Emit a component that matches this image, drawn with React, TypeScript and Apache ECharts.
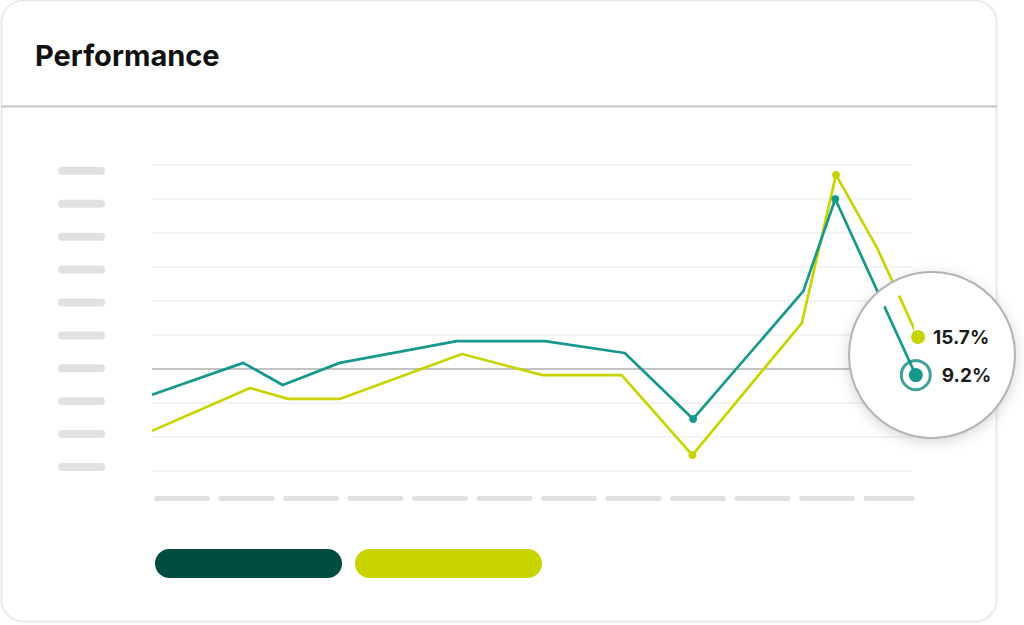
import React, { useEffect, useRef } from "react";
import * as echarts from "echarts";

// x positions are on a 0–100 scale across the plot; y values in grid units (0–9)
const tealX = [0, 12.0, 17.2, 24.7, 40.1, 51.7, 62.2, 71.2, 85.7, 89.9, 100.5];
const tealY = [2.24, 3.18, 2.53, 3.18, 3.82, 3.82, 3.47, 1.53, 5.29, 8.0, 2.82];
const limeX = [0, 12.9, 17.9, 24.7, 40.8, 51.4, 61.8, 71.1, 85.5, 90.0, 95.4, 100.8];
const limeY = [1.18, 2.44, 2.12, 2.12, 3.44, 2.82, 2.82, 0.47, 4.35, 8.71, 6.56, 3.94];
const tealDots = [7, 9];
const limeDots = [7, 9];
const seriesNames = ["Series A", "Series B"];
const endLabels = ["9.2%", "15.7%"];
const title = "Performance";

const TEAL = "#16988d";
const LIME = "#c8d400";
const DARK = "#004b42";

function build(xs: number[], ys: number[], dots: number[], endSize: number, endLabel: string, dist: number) {
  const last = xs.length - 1;
  return xs.map((x, i) => {
    if (i === last) {
      return {
        value: [x, ys[i]],
        symbol: "circle",
        symbolSize: endSize,
        label: {
          show: true,
          position: "right",
          distance: dist,
          formatter: endLabel,
          fontSize: 19,
          fontWeight: "bold",
          color: "#1b1b1b",
          fontFamily: "Inter",
        },
      };
    }
    return {
      value: [x, ys[i]],
      symbol: dots.includes(i) ? "circle" : "none",
      symbolSize: 8,
    };
  });
}

export default function App() {
  const ref = useRef<HTMLDivElement>(null);
  useEffect(() => {
    document.body.style.margin = "0";
    const chart = echarts.init(ref.current!, null, { renderer: "svg" });
    const cx = 932, cy = 355, R = 83;
    const pill = "path://M14.5,0 H172.5 A14.5,14.5 0 0 1 172.5,29 H14.5 A14.5,14.5 0 0 1 14.5,0 Z";
    chart.setOption({
      animation: false,
      backgroundColor: "#ffffff",
      title: {
        text: title,
        left: 30,
        top: 36,
        textStyle: { fontSize: 29, fontWeight: "bold", color: "#111111", fontFamily: "Inter" },
      },
      legend: {
        left: 150,
        top: 544,
        icon: pill,
        itemWidth: 187,
        itemHeight: 29,
        itemGap: 13,
        formatter: () => "",
        itemStyle: { borderWidth: 0 },
        data: [
          { name: seriesNames[0], itemStyle: { color: DARK } },
          { name: seriesNames[1], itemStyle: { color: LIME } },
        ],
        selectedMode: false,
      },
      grid: { left: 152, right: 112, top: 165, bottom: 154 },
      xAxis: {
        type: "value",
        min: 0,
        max: 100,
        position: "bottom",
        offset: 27,
        axisLine: {
          show: true,
          onZero: false,
          lineStyle: { color: "#e1e1e1", width: 5, type: [51, 13.5], dashOffset: 60 },
        },
        axisTick: { show: false },
        axisLabel: { show: false },
        splitLine: { show: false },
      },
      yAxis: [
        {
          type: "value",
          min: 0,
          max: 9,
          interval: 1,
          axisLine: { show: false },
          axisTick: { show: false },
          axisLabel: { show: false },
          splitLine: {
            show: true,
            lineStyle: {
              width: 2,
              color: ["#f3f3f3", "#f3f3f3", "#f3f3f3", "#c2c2c2", "#f3f3f3", "#f3f3f3", "#f3f3f3", "#f3f3f3", "#f3f3f3", "#f3f3f3"],
            },
          },
        },
        {
          type: "value",
          min: 0,
          max: 9.3,
          interval: 1,
          position: "left",
          axisLine: { show: false },
          axisTick: { show: false },
          splitLine: { show: false },
          axisLabel: {
            show: true,
            margin: 47,
            showMaxLabel: false,
            verticalAlign: "bottom",
            formatter: () => "{p| }",
            rich: { p: { width: 47, height: 8, backgroundColor: "#e1e1e1", borderRadius: 4 } },
          },
        },
      ],
      graphic: [
        {
          type: "rect",
          z: -5,
          shape: { x: 1.5, y: 0.5, width: 995, height: 621, r: 22 },
          style: { fill: "#ffffff", stroke: "#e6e6e6", lineWidth: 1.5, shadowBlur: 4, shadowColor: "rgba(0,0,0,0.06)" },
          silent: true,
        },
        {
          type: "line",
          z: -4,
          shape: { x1: 1, y1: 106.5, x2: 997, y2: 106.5 },
          style: { stroke: "#c4c4c4", lineWidth: 2 },
          silent: true,
        },
        {
          type: "circle",
          z: 1,
          shape: { cx, cy, r: R },
          style: { fill: "#ffffff", shadowBlur: 14, shadowColor: "rgba(0,0,0,0.18)", shadowOffsetY: 3 },
          silent: true,
        },
        {
          type: "circle",
          z: 10,
          shape: { cx, cy, r: R - 7.5 },
          style: { fill: "none", stroke: "#ffffff", lineWidth: 15 },
          silent: true,
        },
        {
          type: "circle",
          z: 11,
          shape: { cx, cy, r: R },
          style: { fill: "none", stroke: "#b3b3b3", lineWidth: 2 },
          silent: true,
        },
      ],
      series: [
        {
          name: seriesNames[1],
          type: "line",
          clip: false,
          showAllSymbol: true,
          symbol: "circle",
          lineStyle: { color: LIME, width: 2.7 },
          itemStyle: { color: LIME },
          data: build(limeX, limeY, limeDots, 14, endLabels[1], 8),
          z: 3,
        },
        {
          name: seriesNames[0],
          type: "line",
          clip: false,
          showAllSymbol: true,
          symbol: "circle",
          lineStyle: { color: TEAL, width: 2.7 },
          itemStyle: { color: TEAL },
          data: build(tealX, tealY, tealDots, 14, endLabels[0], 19),
          z: 4,
        },
        {
          type: "scatter",
          clip: false,
          silent: true,
          symbol: "circle",
          symbolSize: 29,
          itemStyle: { color: "rgba(0,0,0,0)", borderColor: "#128a80", borderWidth: 3 },
          data: [[tealX[tealX.length - 1], tealY[tealY.length - 1]]],
          z: 5,
        },
      ],
    });
    return () => chart.dispose();
  }, []);
  return <div ref={ref} style={{ width: 1024, height: 625 }} />;
}
